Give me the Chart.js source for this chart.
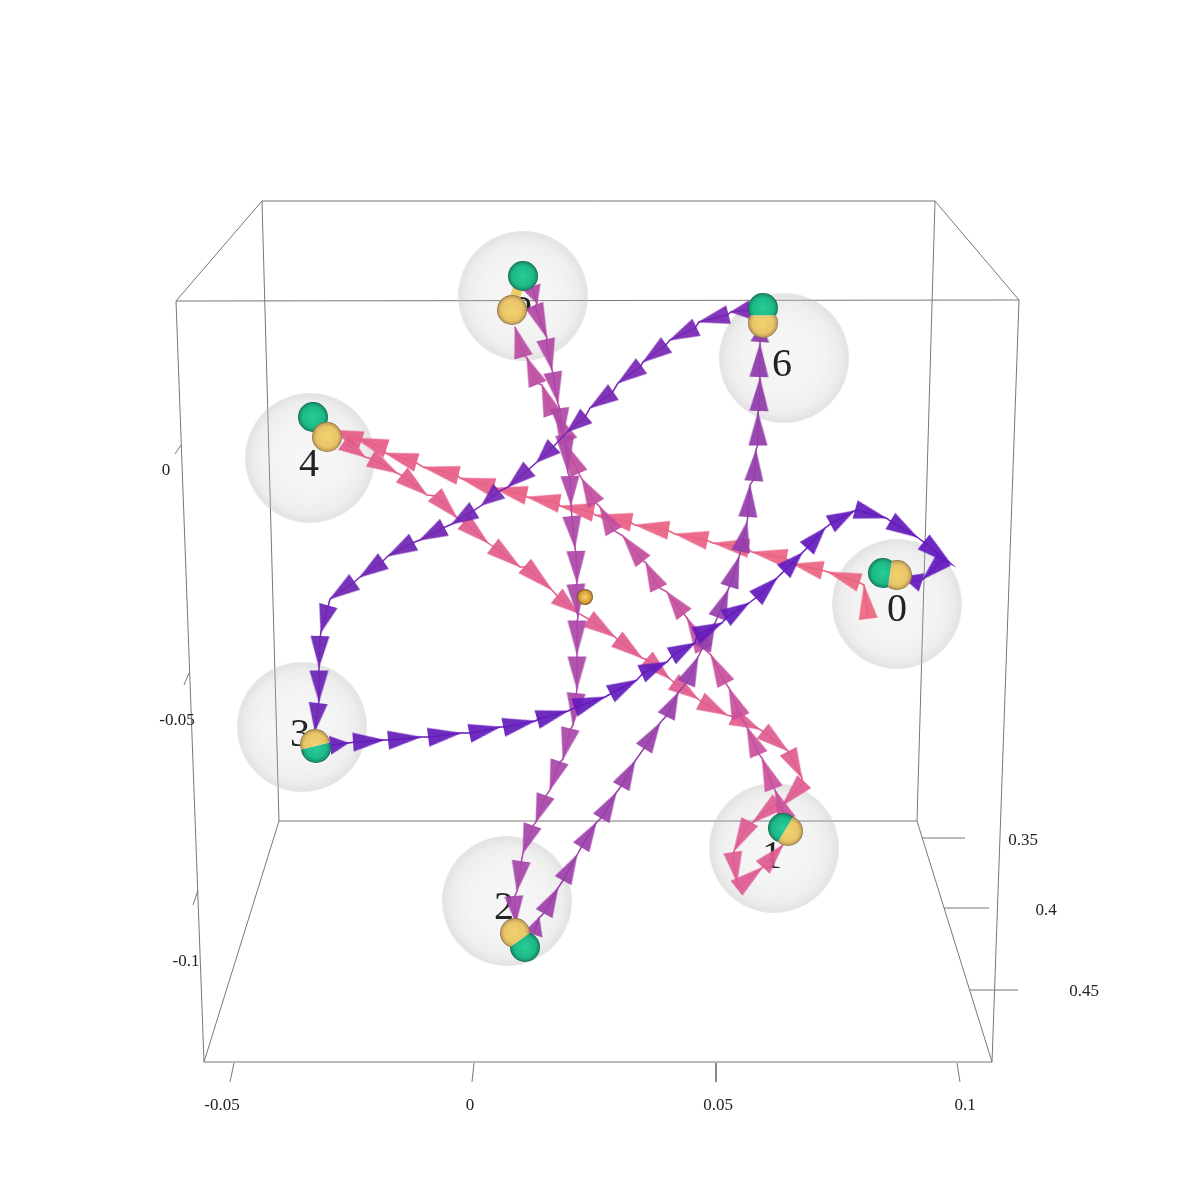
<!DOCTYPE html>
<html>
<head>
<meta charset="utf-8">
<title>Trajectory</title>
<script src="https://cdn.jsdelivr.net/npm/chart.js@4/dist/chart.umd.min.js"></script>
<style>
  html, body { margin: 0; background: #fff; }
  canvas { display: block; }
</style>
</head>
<body>
<canvas id="plot" width="1196" height="1196"></canvas>
<script>
// the plot is a 3D view, so everything is read in picture units: [fromX, fromY, toX, toY]
const boxEdges = [
  [262,201,935,201], [262,201,279,821], [935,201,917,821], [279,821,917,821],
  [176,301,1019,300], [176,301,204,1062], [1019,300,992,1062], [204,1062,992,1062],
  [262,201,176,301], [935,201,1019,300], [279,821,204,1062], [917,821,992,1062]
];
const tickEdges = [
  [234,1063,230,1082], [474,1063,472,1082], [716,1063,716,1082], [957,1063,960,1082],
  [181,445,175,454], [189,673,184,685], [198,890,193,905],
  [922,838,965,838], [944,908,989,908], [970,990,1018,990]
];

const tickLabels = ['-0.05', '0', '0.05', '0.1', '0', '-0.05', '-0.1', '0.35', '0.4', '0.45'];
const tickLabelX = [222, 470, 718, 965, 166, 177, 186, 1023, 1046, 1084];
const tickLabelY = [1106, 1106, 1106, 1106, 471, 721, 962, 841, 911, 992];

const siteLabels = ['0', '1', '2', '3', '4', '5', '6'];
const siteX = [897, 774, 507, 302, 310, 523, 784];
const siteY = [604, 848, 901, 727, 458, 296, 358];
const siteLabelX = [897, 772, 504, 300, 309, 522, 782];
const siteLabelY = [610, 857, 908, 735, 465, 302, 365];

const greenX = [883, 783, 525, 316, 313, 523, 763];
const greenY = [573, 828, 947, 748, 417, 276, 308];
const yellowX = [897, 788, 515, 315, 327, 512, 763];
const yellowY = [575, 831, 933, 744, 437, 310, 323];
const bondX = [520, 511];
const bondY = [282, 310];
const centerX = [585];
const centerY = [597];

// cones of each leg, base -> tip
const leg0to4 = [
  [868,617,864,585], [858,582,828,572], [821,570,793,564], [785,558,752,552],
  [747,548,713,543], [706,540,675,534], [667,530,635,525], [630,522,595,515],
  [592,512,560,506], [558,503,527,497], [525,495,494,488], [492,487,460,478],
  [457,475,423,467], [415,462,385,453], [385,448,355,438], [360,440,330,430]
];
const leg4to1 = [
  [345,443,365,457], [372,459,397,473], [403,476,427,495], [436,496,457,518],
  [465,523,488,543], [494,547,520,567], [526,567,552,590], [558,597,578,613],
  [590,620,615,637], [618,640,642,658], [648,660,670,679], [675,683,698,699],
  [702,702,727,715], [734,717,759,729], [764,732,788,751], [789,753,802,778],
  [803,783,782,806], [777,803,752,823], [749,823,734,851], [733,854,737,882],
  [738,887,763,867], [764,866,783,845]
];
const leg1to5 = [
  [786,818,775,790], [773,787,762,758], [758,753,747,727], [740,715,729,688],
  [725,682,711,655], [703,648,687,618], [683,613,667,592], [658,587,646,563],
  [642,560,623,536], [613,530,600,507], [595,502,582,479], [578,472,565,443],
  [568,440,555,412], [552,413,542,385], [537,383,527,358], [523,355,515,327]
];
const leg5to2 = [
  [532,288,537,303], [535,307,547,338], [546,341,552,370], [553,374,558,403],
  [560,410,563,437], [565,437,568,473], [570,478,571,505], [572,518,575,548],
  [576,553,577,583], [576,586,578,617], [577,622,577,654], [577,658,577,689],
  [576,695,573,725], [570,730,563,759], [559,763,550,790], [545,797,536,822],
  [532,827,523,853], [521,863,517,891], [514,898,516,923]
];
const leg2to6 = [
  [534,933,539,918], [545,912,558,888], [564,879,577,855], [582,846,596,823],
  [602,817,616,793], [622,785,635,761], [645,747,660,723], [667,715,678,693],
  [687,682,698,657], [703,647,715,623], [718,616,728,590], [730,585,739,557],
  [741,550,747,522], [748,515,750,485], [754,479,756,450], [758,444,758,413],
  [759,409,760,378], [759,375,760,344], [760,340,761,325]
];
const leg6to3 = [
  [748,310,731,312], [727,315,699,322], [695,328,670,340], [665,346,643,362],
  [640,367,618,383], [612,393,590,408], [585,417,567,432], [553,447,537,462],
  [528,470,508,487], [498,492,482,505], [473,511,452,524], [443,528,420,540],
  [412,543,388,556], [382,562,360,577], [353,583,330,599], [328,607,321,632],
  [320,638,319,667], [319,672,319,701], [318,705,315,731]
];
const leg3to0 = [
  [332,745,348,743], [355,742,384,740], [390,740,421,737], [430,737,461,733],
  [471,733,500,727], [505,727,535,721], [539,719,568,711], [576,707,605,697],
  [612,693,637,680], [643,673,667,662], [673,655,695,643], [697,635,722,623],
  [727,617,749,603], [757,597,777,578], [785,570,802,553], [808,547,825,528],
  [832,523,854,511], [857,510,886,518], [892,522,917,537], [925,543,951,564],
  [943,560,923,579], [920,582,903,577]
];

const legs = [leg0to4, leg4to1, leg1to5, leg5to2, leg2to6, leg6to3, leg3to0];
const legColors = [
  [[237,102,128], [229,92,136]],
  [[226,92,138], [222,92,148]],
  [[205,82,155], [185,75,160]],
  [[178,72,165], [165,70,170]],
  [[160,65,170], [140,58,170]],
  [[125,40,180], [105,35,180]],
  [[100,30,185], [100,25,190]]
];

function newSprite(w, h) {
  const c = document.createElement('canvas');
  c.width = w;
  c.height = h;
  return c;
}

// cone seen from the side, tip pointing right
function coneSprite(len, color) {
  const c = newSprite(Math.ceil(len) + 2, 21);
  const g = c.getContext('2d');
  g.fillStyle = `rgba(${color[0]},${color[1]},${color[2]},0.93)`;
  g.beginPath();
  g.moveTo(1, 1);
  g.lineTo(len + 1, 10.5);
  g.lineTo(1, 20);
  g.closePath();
  g.fill();
  return c;
}

function glassSprite(r) {
  const c = newSprite(r * 2, r * 2);
  const g = c.getContext('2d');
  const rad = g.createRadialGradient(r, r, 0, r, r, r);
  rad.addColorStop(0, 'rgba(190,190,190,0.12)');
  rad.addColorStop(0.6, 'rgba(190,190,190,0.18)');
  rad.addColorStop(0.85, 'rgba(190,190,190,0.27)');
  rad.addColorStop(0.97, 'rgba(190,190,190,0.42)');
  rad.addColorStop(1, 'rgba(190,190,190,0.36)');
  g.fillStyle = rad;
  g.arc(r, r, r, 0, Math.PI * 2);
  g.fill();
  return c;
}

// shaded ball; when it overlaps its partner it is cut on the plane half way between them
function ballSprite(r, stops, dx, dy) {
  const c = newSprite(r * 2 + 2, r * 2 + 2);
  const g = c.getContext('2d');
  const m = r + 1;
  const d = Math.hypot(dx, dy);
  if (d > 0 && d < 20) {
    const a = Math.atan2(dy, dx);
    g.translate(m, m);
    g.rotate(a);
    g.beginPath();
    g.rect(-r - 2, -r - 2, r + 2 + d / 2, r * 2 + 4);
    g.clip();
    g.rotate(-a);
    g.translate(-m, -m);
  }
  const rad = g.createRadialGradient(m, m, 0, m, m, r);
  rad.addColorStop(0, stops[0]);
  rad.addColorStop(0.7, stops[1]);
  rad.addColorStop(0.9, stops[2]);
  rad.addColorStop(1, stops[3]);
  g.fillStyle = rad;
  g.beginPath();
  g.arc(m, m, r, 0, Math.PI * 2);
  g.fill();
  return c;
}

const greenStops = ['rgb(40,205,150)', 'rgb(30,185,135)', 'rgb(24,150,112)', 'rgb(18,95,78)'];
const yellowStops = ['rgb(243,210,112)', 'rgb(232,197,104)', 'rgb(200,165,88)', 'rgb(135,110,70)'];
const goldStops = ['rgb(248,205,115)', 'rgb(215,160,60)', 'rgb(165,115,35)', 'rgb(95,65,20)'];

function points(xs, ys) {
  return xs.map((x, i) => ({ x: x, y: ys[i] }));
}

const datasets = [];

boxEdges.concat(tickEdges).forEach(e => {
  datasets.push({
    data: [{ x: e[0], y: e[1] }, { x: e[2], y: e[3] }],
    showLine: true, borderColor: '#777', borderWidth: 1, pointRadius: 0, order: 50
  });
});

datasets.push({
  label: 'sites', data: points(siteX, siteY),
  pointStyle: glassSprite(65), pointRadius: 5, order: 40
});

legs.forEach((leg, k) => {
  const [c0, c1] = legColors[k];
  const mid = c0.map((v, j) => Math.round((v + c1[j]) / 2));
  // thin shaft joining the cones of a leg
  datasets.push({
    data: leg.flatMap(a => [{ x: a[0], y: a[1] }, { x: a[2], y: a[3] }]),
    showLine: true, borderColor: `rgb(${mid.join(',')})`, borderWidth: 1.5, pointRadius: 0, order: 30 - k
  });
  datasets.push({
    data: leg.map(a => ({ x: (a[0] + a[2]) / 2, y: (a[1] + a[3]) / 2 })),
    pointStyle: leg.map((a, i) => {
      const t = i / (leg.length - 1);
      return coneSprite(Math.hypot(a[2] - a[0], a[3] - a[1]) + 3, c0.map((v, j) => Math.round(v + (c1[j] - v) * t)));
    }),
    pointRotation: leg.map(a => Math.atan2(a[3] - a[1], a[2] - a[0]) * 180 / Math.PI),
    pointRadius: 5, order: 30 - k
  });
});

datasets.push({
  data: points(bondX, bondY), showLine: true,
  borderColor: 'rgb(238,205,105)', borderWidth: 10, pointRadius: 0, order: 9
});
datasets.push({
  data: points(greenX, greenY),
  pointStyle: greenX.map((x, i) => ballSprite(15, greenStops, yellowX[i] - x, yellowY[i] - greenY[i])),
  pointRadius: 5, order: 8
});
datasets.push({
  data: points(yellowX, yellowY),
  pointStyle: yellowX.map((x, i) => ballSprite(15, yellowStops, greenX[i] - x, greenY[i] - yellowY[i])),
  pointRadius: 5, order: 7
});
datasets.push({
  data: points(centerX, centerY),
  pointStyle: ballSprite(8, goldStops, 0, 0), pointRadius: 5, order: 6
});

const textPlugin = {
  id: 'plotText',
  // numbers sit inside the glass spheres but under the cones and atoms
  afterDatasetDraw(chart, args) {
    if (chart.data.datasets[args.index].label !== 'sites') return;
    const { ctx, scales } = chart;
    ctx.save();
    ctx.fillStyle = '#222';
    ctx.textAlign = 'center';
    ctx.textBaseline = 'middle';
    ctx.font = '40px "Liberation Serif"';
    siteLabels.forEach((s, i) => {
      ctx.fillText(s, scales.x.getPixelForValue(siteLabelX[i]), scales.y.getPixelForValue(siteLabelY[i]));
    });
    ctx.font = '17px "Liberation Serif"';
    tickLabels.forEach((s, i) => {
      ctx.fillText(s, scales.x.getPixelForValue(tickLabelX[i]), scales.y.getPixelForValue(tickLabelY[i]));
    });
    ctx.restore();
  }
};

new Chart(document.getElementById('plot').getContext('2d'), {
  type: 'scatter',
  data: { datasets: datasets },
  options: {
    responsive: false,
    animation: false,
    events: [],
    layout: { padding: 0, autoPadding: false },
    plugins: { legend: { display: false }, tooltip: { enabled: false } },
    scales: {
      x: { type: 'linear', display: false, min: 0, max: 1196 },
      y: { type: 'linear', display: false, min: 0, max: 1196, reverse: true }
    }
  },
  plugins: [textPlugin]
});
</script>
</body>
</html>
